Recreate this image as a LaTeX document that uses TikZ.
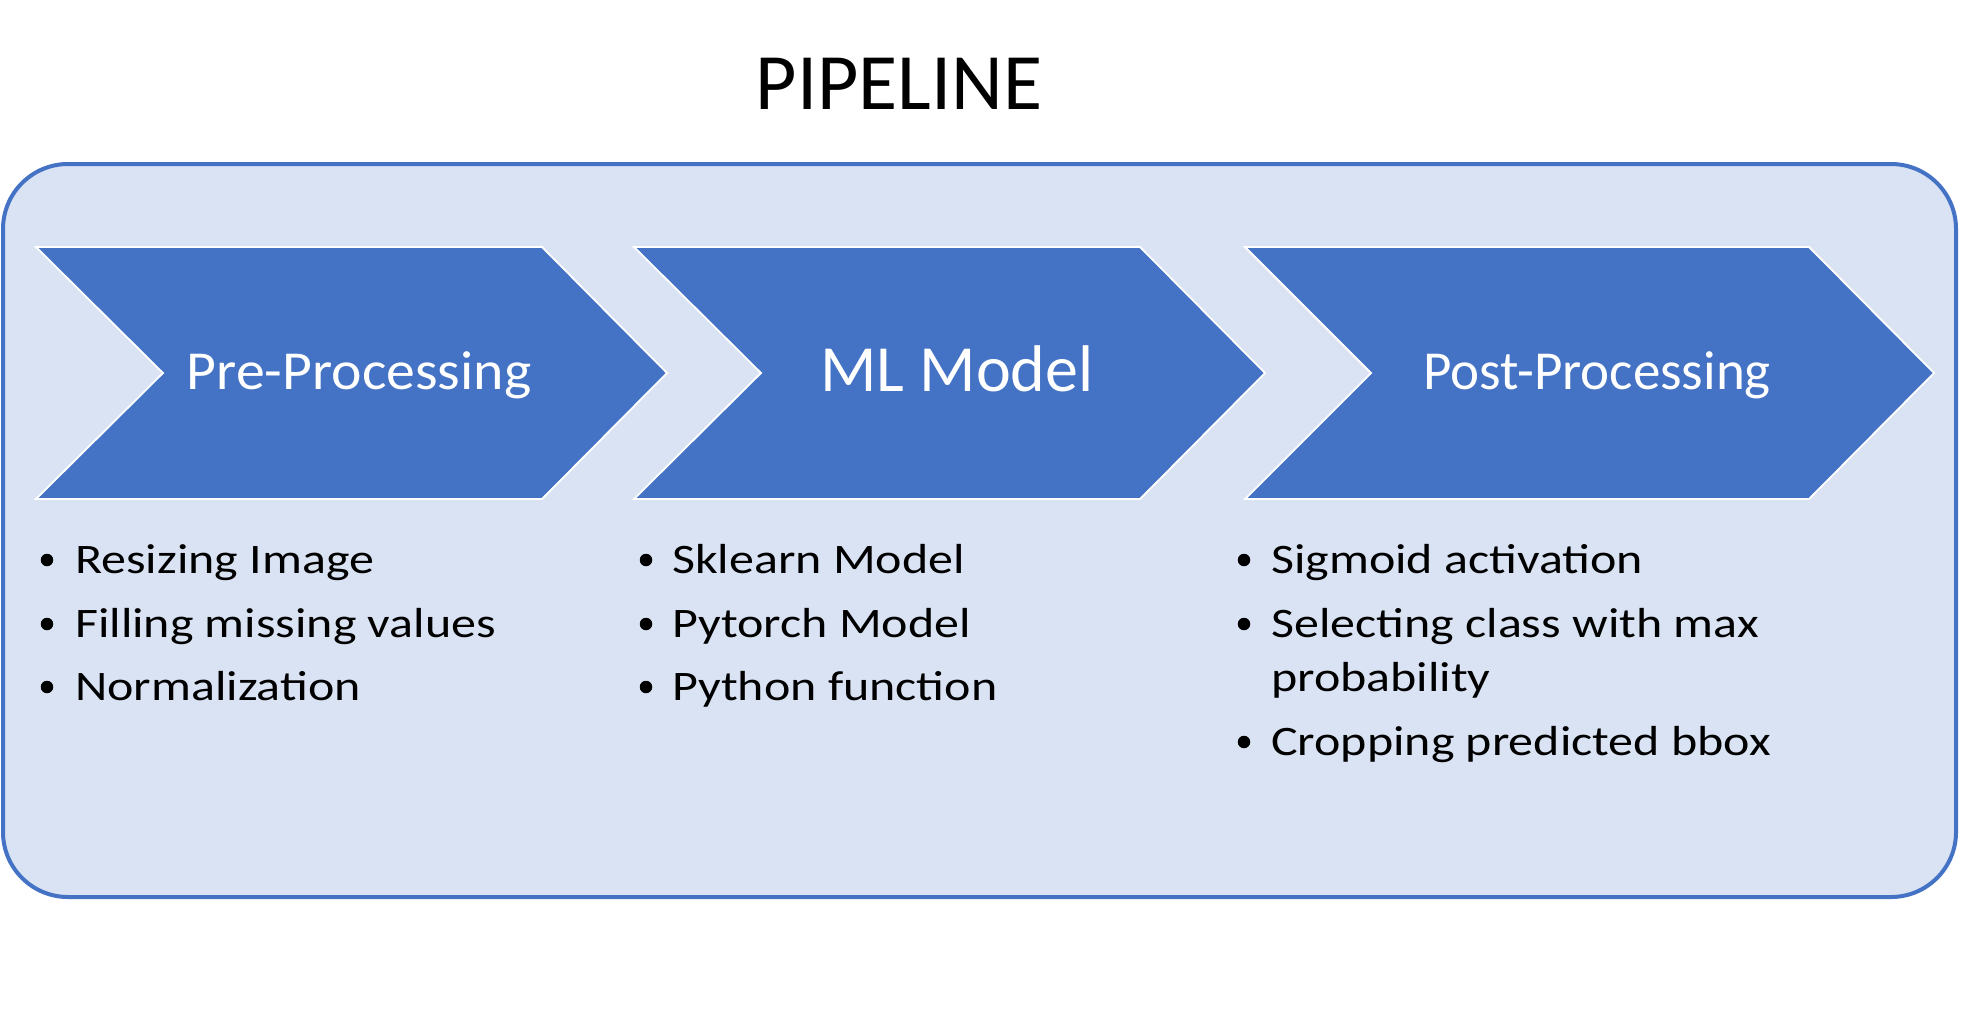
\documentclass[tikz,border=0pt]{standalone}
\usepackage{fontspec}
\setmainfont{Carlito}
\newfontfamily\itemfont{Carlito}[FakeStretch=1.19]
\newfontfamily\prefont{Carlito}[FakeStretch=1.05]
\usepackage{tikz}

\definecolor{chevblue}{HTML}{4472C4}
\definecolor{panelblue}{HTML}{DAE3F3}

\tikzset{
  panel/.style={fill=panelblue, draw=chevblue, line width=4pt, rounded corners=65pt},
  chev/.style={fill=chevblue, draw=white, line width=1.8pt, line join=miter},
  chevtext/.style={anchor=base, text=white, inner sep=0pt, font=\fontsize{55}{66}\selectfont},
  itemtext/.style={anchor=base west, inner sep=0pt, font=\itemfont\fontsize{42}{50}\selectfont},
  bulletdot/.style={circle, fill=black, inner sep=0pt, minimum size=12.5pt},
}

\begin{document}
\begin{tikzpicture}[x=1pt, y=-1pt]
  \useasboundingbox (0,0) rectangle (1961,1017);

  % Title
  \node[anchor=base, inner sep=0pt, font=\fontsize{80}{96}\selectfont] (title) at (899,109) {PIPELINE};

  % Panel
  \draw[panel] (3,164) rectangle (1956,897);

  % Chevrons
  \draw[chev] (36,247) -- (542,247) -- (667,373) -- (542,499) -- (36,499) -- (163,373) -- cycle;
  \draw[chev] (634,247) -- (1140,247) -- (1265,373) -- (1140,499) -- (634,499) -- (761,373) -- cycle;
  \draw[chev] (1245,247) -- (1809,247) -- (1934,373) -- (1809,499) -- (1245,499) -- (1371,373) -- cycle;

  \node[chevtext, font=\prefont\fontsize{55}{66}\selectfont] (pre) at (359,389) {Pre-Processing};
  \node[chevtext, font=\fontsize{66}{79}\selectfont] (model) at (957,391) {ML Model};
  \node[chevtext] (post) at (1597,389) {Post-Processing};

  % Pre-processing steps
  \node[itemtext] (pre1) at (75,573) {Resizing Image};
  \node[itemtext] (pre2) at (75,637) {Filling missing values};
  \node[itemtext] (pre3) at (75,700) {Normalization};
  \node[bulletdot] at (47,560) {};
  \node[bulletdot] at (47,624) {};
  \node[bulletdot] at (47,687) {};

  % Model steps
  \node[itemtext] (model1) at (672,573) {Sklearn Model};
  \node[itemtext] (model2) at (672,637) {Pytorch Model};
  \node[itemtext] (model3) at (672,700) {Python function};
  \node[bulletdot] at (646,560) {};
  \node[bulletdot] at (646,624) {};
  \node[bulletdot] at (646,687) {};

  % Post-processing steps
  \node[itemtext] (post1) at (1271,573) {Sigmoid activation};
  \node[itemtext] (post2) at (1271,637) {Selecting class with max};
  \node[itemtext] (post2b) at (1271,691) {probability};
  \node[itemtext] (post3) at (1271,755) {Cropping predicted bbox};
  \node[bulletdot] at (1244,560) {};
  \node[bulletdot] at (1244,624) {};
  \node[bulletdot] at (1244,742) {};
\end{tikzpicture}
\end{document}
